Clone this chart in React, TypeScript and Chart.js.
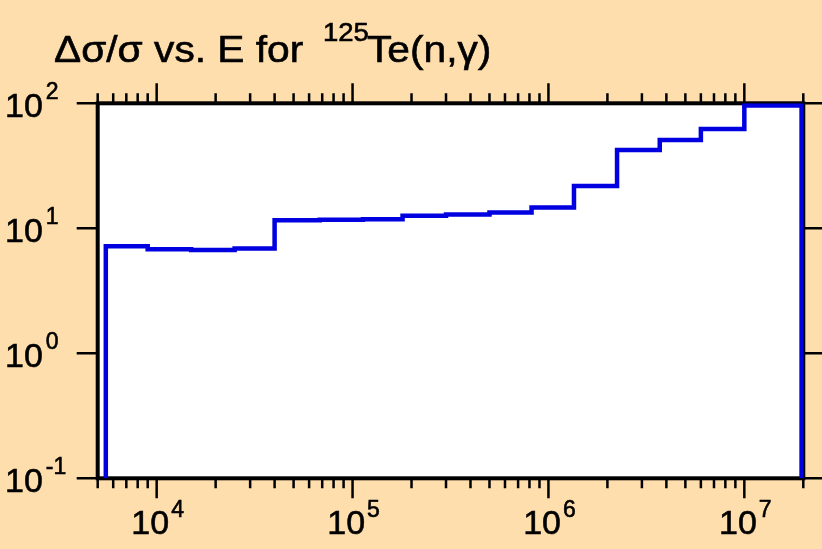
import React, { useEffect, useRef } from 'react';
import { Chart, registerables } from 'chart.js';

Chart.register(...registerables);

// ---- data ----
const binEdges = [5500, 9000, 15000, 25000, 40000, 68000, 113000, 180000, 300000, 500000, 820000, 1350000, 2240000, 3700000, 6000000, 10000000, 19600000];
const relUncert = [7.2, 6.8, 6.7, 6.9, 11.6, 11.7, 11.8, 12.6, 12.9, 13.4, 14.7, 21.8, 42.3, 50.8, 62.2, 96];
const xRange = [5000, 20000000];
const yRange = [0.1, 100];
const xTickExponents = [4, 5, 6, 7];
const yTickExponents = [-1, 0, 1, 2];
const titleMain = 'Δσ/σ vs. E for';
const titleSup = '125';
const titleTail = 'Te(n,γ)';

const BG = '#FFDEAD';
const LINE = 'rgb(0,0,225)';
const FONT = '"Liberation Sans", Arial, Helvetica, sans-serif';

function text(ctx: any, s: string, x: number, y: number) {
  ctx.fillText(s, x, y);
  ctx.strokeText(s, x, y);
}

const decorPlugin = {
  id: 'decor',
  beforeDraw(chart: any) {
    const { ctx, chartArea: a, width, height } = chart;
    ctx.save();
    ctx.fillStyle = BG;
    ctx.fillRect(0, 0, width, height);
    ctx.fillStyle = '#FFFFFF';
    ctx.fillRect(a.left, a.top, a.right - a.left, a.bottom - a.top);
    ctx.restore();
  },
  beforeDatasetsDraw(chart: any) {
    const { ctx, chartArea: a, scales } = chart;
    const xs = scales.x;
    const ys = scales.y;
    ctx.save();
    ctx.strokeStyle = '#000';
    ctx.lineWidth = 2.5;
    ctx.lineCap = 'butt';
    ctx.beginPath();
    for (let n = 3; n <= 7; n++) {
      for (let m = 1; m <= 9; m++) {
        const v = m * Math.pow(10, n);
        if (v < xRange[0] * 0.999 || v > xRange[1] * 1.001) continue;
        const px = xs.getPixelForValue(v);
        const len = m === 1 ? 20 : 10;
        ctx.moveTo(px, a.bottom);
        ctx.lineTo(px, a.bottom + len);
        ctx.moveTo(px, a.top);
        ctx.lineTo(px, a.top - len);
      }
    }
    for (const e of yTickExponents) {
      const py = ys.getPixelForValue(Math.pow(10, e));
      ctx.moveTo(a.left - 21, py);
      ctx.lineTo(a.left, py);
      ctx.moveTo(a.right, py);
      ctx.lineTo(a.right + 21, py);
    }
    ctx.stroke();
    ctx.lineWidth = 4;
    ctx.lineJoin = 'miter';
    ctx.strokeRect(a.left, a.top, a.right - a.left, a.bottom - a.top);
    ctx.restore();
  },
  afterDraw(chart: any) {
    const { ctx, scales } = chart;
    const xs = scales.x;
    const ys = scales.y;
    ctx.save();
    ctx.fillStyle = '#000';
    ctx.strokeStyle = '#000';
    ctx.lineWidth = 0.6;
    ctx.textBaseline = 'alphabetic';
    ctx.textAlign = 'left';
    const bigFont = `34px ${FONT}`;
    const supFont = `23px ${FONT}`;
    for (const e of yTickExponents) {
      const py = ys.getPixelForValue(Math.pow(10, e));
      ctx.font = bigFont;
      text(ctx, '10', 5, py + 13.5);
      const w = ctx.measureText('10').width;
      ctx.font = supFont;
      text(ctx, e < 0 ? '-' + Math.abs(e) : String(e), 5 + w + 3, py - 4.5);
    }
    for (const e of xTickExponents) {
      const px = xs.getPixelForValue(Math.pow(10, e));
      ctx.font = bigFont;
      const w = ctx.measureText('10').width;
      ctx.font = supFont;
      const ws = ctx.measureText(String(e)).width;
      const start = px - (w + 2 + ws) / 2 + 1;
      ctx.font = bigFont;
      text(ctx, '10', start, 533.5);
      ctx.font = supFont;
      text(ctx, String(e), start + w + 2, 516.5);
    }
    const sx = 1.1;
    const drawScaled = (txt: string, x: number, y: number, font: string) => {
      ctx.save();
      ctx.font = font;
      ctx.translate(x, y);
      ctx.scale(sx, 1);
      text(ctx, txt, 0, 0);
      ctx.restore();
    };
    drawScaled(titleMain, 54, 62, `37px ${FONT}`);
    drawScaled(titleSup, 323, 41, `25px ${FONT}`);
    drawScaled(titleTail, 367, 62, `37px ${FONT}`);
    ctx.restore();
  },
};

export default function App() {
  const ref = useRef<HTMLCanvasElement | null>(null);
  useEffect(() => {
    document.body.style.margin = '0';
    document.body.style.background = BG;
    const canvas = ref.current;
    if (!canvas) return;
    const pts: { x: number; y: number }[] = [];
    pts.push({ x: binEdges[0], y: yRange[0] });
    relUncert.forEach((v, i) => {
      pts.push({ x: binEdges[i], y: v });
      pts.push({ x: binEdges[i + 1], y: v });
    });
    pts.push({ x: binEdges[binEdges.length - 1], y: yRange[0] });
    const chart = new Chart(canvas, {
      type: 'line',
      data: {
        datasets: [
          {
            data: pts,
            borderColor: LINE,
            borderWidth: 4.5,
            pointRadius: 0,
            fill: false,
            tension: 0,
            borderJoinStyle: 'miter',
            borderCapStyle: 'butt',
          },
        ],
      },
      options: {
        animation: false,
        responsive: false,
        devicePixelRatio: 1,
        layout: { padding: { left: 97.7, top: 103.3, right: 18.7, bottom: 70.7 } },
        scales: {
          x: { type: 'logarithmic', min: xRange[0], max: xRange[1], display: false },
          y: { type: 'logarithmic', min: yRange[0], max: yRange[1], display: false },
        },
        plugins: {
          legend: { display: false },
          title: { display: false },
          tooltip: { enabled: false },
        },
      },
      plugins: [decorPlugin],
    } as any);
    return () => chart.destroy();
  }, []);
  return (
    <div style={{ position: 'fixed', left: 0, top: 0, width: 822, height: 549 }}>
      <canvas ref={ref} width={822} height={549} style={{ display: 'block' }} />
    </div>
  );
}
